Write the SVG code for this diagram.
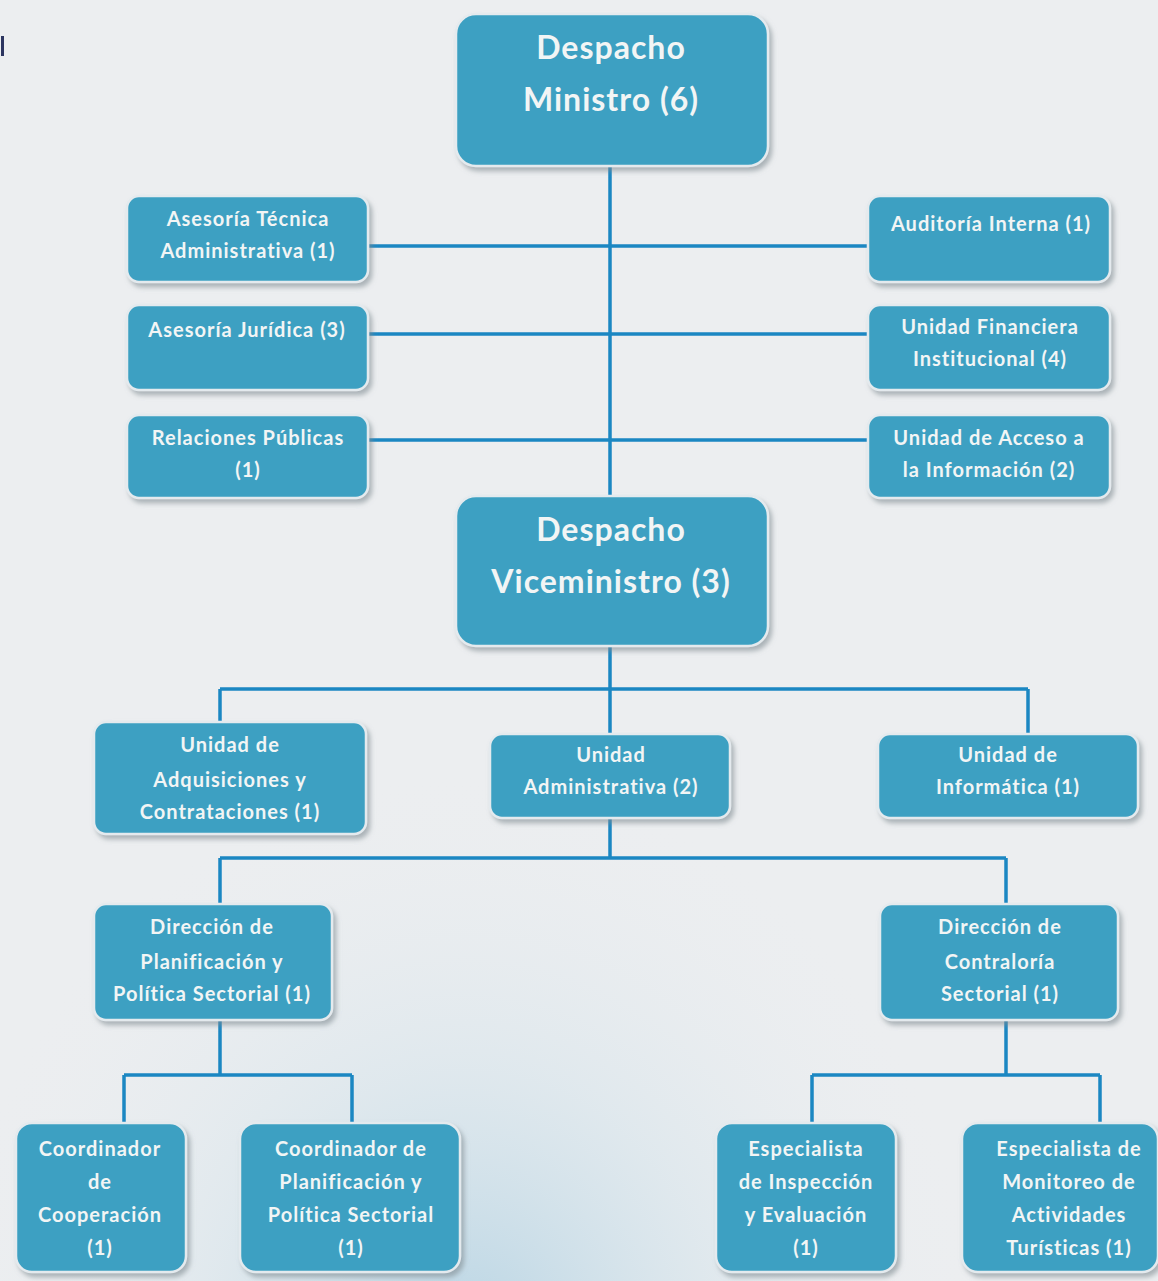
<svg xmlns="http://www.w3.org/2000/svg" width="1158" height="1281" viewBox="0 0 1158 1281">
<defs>
<style>
.box{fill:#3ca0c2;stroke:#e4eaee;stroke-width:2.5;filter:url(#sh)}
.t{font-family:Lato,"Open Sans","Liberation Sans",sans-serif;font-weight:bold;fill:#f2f5f5;text-anchor:middle;font-size:20px;letter-spacing:1px}
.big{font-size:32px;letter-spacing:1px}
.c{stroke:#1b87c2;stroke-width:3.5;fill:none}
</style>
<filter id="sh" x="-10%" y="-10%" width="125%" height="130%">
<feDropShadow dx="3" dy="4" stdDeviation="2.5" flood-color="#7f8a90" flood-opacity="0.6"/>
</filter>
<radialGradient id="bg2" cx="0.4" cy="1.05" r="0.45">
<stop offset="0" stop-color="#a9cde0" stop-opacity="0.8"/>
<stop offset="0.5" stop-color="#cfe1ea" stop-opacity="0.4"/>
<stop offset="1" stop-color="#eceef0" stop-opacity="0"/>
</radialGradient>
</defs>
<rect width="1158" height="1281" fill="#eceef0"/>
<rect width="1158" height="1281" fill="url(#bg2)"/>
<rect x="1" y="36" width="3" height="20" fill="#2c3560"/>
<g id="connectors">
<path class="c" d="M610 166V496M368 246H868M368 334H868M368 440H868"/>
<path class="c" d="M610 646V734M220 689H1028M220 689V722M1028 689V734"/>
<path class="c" d="M610 818V858M220 858H1006M220 858V904M1006 858V904"/>
<path class="c" d="M220 1020V1075M124 1075H352M124 1075V1123M352 1075V1123"/>
<path class="c" d="M1006 1020V1075M812 1075H1100M812 1075V1123M1100 1075V1123"/>
</g>
<g id="n1"><rect class="box" x="456" y="14" width="312" height="152" rx="20"/><text class="t big" x="611" y="59">Despacho</text><text class="t big" x="611" y="111">Ministro (6)</text></g>
<g id="n2"><rect class="box" x="127" y="196" width="241" height="86" rx="12"/><text class="t" x="248" y="226">Asesoría Técnica</text><text class="t" x="248" y="258">Administrativa (1)</text></g>
<g id="n3"><rect class="box" x="127" y="305" width="241" height="85" rx="12"/><text class="t" x="247" y="337">Asesoría Jurídica (3)</text></g>
<g id="n4"><rect class="box" x="127" y="415" width="241" height="83" rx="12"/><text class="t" x="248" y="445">Relaciones Públicas</text><text class="t" x="248" y="477">(1)</text></g>
<g id="n5"><rect class="box" x="868" y="196" width="242" height="86" rx="12"/><text class="t" x="991" y="231">Auditoría Interna (1)</text></g>
<g id="n6"><rect class="box" x="868" y="305" width="242" height="85" rx="12"/><text class="t" x="990" y="334">Unidad Financiera</text><text class="t" x="990" y="366">Institucional (4)</text></g>
<g id="n7"><rect class="box" x="868" y="415" width="242" height="83" rx="12"/><text class="t" x="989" y="445">Unidad de Acceso a</text><text class="t" x="989" y="477">la Información (2)</text></g>
<g id="n8"><rect class="box" x="456" y="496" width="312" height="150" rx="20"/><text class="t big" x="611" y="541">Despacho</text><text class="t big" x="611" y="593">Viceministro (3)</text></g>
<g id="n9"><rect class="box" x="94" y="722" width="272" height="112" rx="12"/><text class="t" x="230" y="752">Unidad de</text><text class="t" x="230" y="787">Adquisiciones y</text><text class="t" x="230" y="819">Contrataciones (1)</text></g>
<g id="n10"><rect class="box" x="490" y="734" width="240" height="84" rx="12"/><text class="t" x="611" y="762">Unidad</text><text class="t" x="611" y="794">Administrativa (2)</text></g>
<g id="n11"><rect class="box" x="878" y="734" width="260" height="84" rx="12"/><text class="t" x="1008" y="762">Unidad de</text><text class="t" x="1008" y="794">Informática (1)</text></g>
<g id="n12"><rect class="box" x="94" y="904" width="238" height="116" rx="12"/><text class="t" x="212" y="934">Dirección de</text><text class="t" x="212" y="969">Planificación y</text><text class="t" x="212" y="1001">Política Sectorial (1)</text></g>
<g id="n13"><rect class="box" x="880" y="904" width="238" height="116" rx="12"/><text class="t" x="1000" y="934">Dirección de</text><text class="t" x="1000" y="969">Contraloría</text><text class="t" x="1000" y="1001">Sectorial (1)</text></g>
<g id="n14"><rect class="box" x="16" y="1123" width="170" height="149" rx="16"/><text class="t" x="100" y="1156">Coordinador</text><text class="t" x="100" y="1189">de</text><text class="t" x="100" y="1222">Cooperación</text><text class="t" x="100" y="1255">(1)</text></g>
<g id="n15"><rect class="box" x="240" y="1123" width="220" height="149" rx="16"/><text class="t" x="351" y="1156">Coordinador de</text><text class="t" x="351" y="1189">Planificación y</text><text class="t" x="351" y="1222">Política Sectorial</text><text class="t" x="351" y="1255">(1)</text></g>
<g id="n16"><rect class="box" x="716" y="1123" width="180" height="149" rx="16"/><text class="t" x="806" y="1156">Especialista</text><text class="t" x="806" y="1189">de Inspección</text><text class="t" x="806" y="1222">y Evaluación</text><text class="t" x="806" y="1255">(1)</text></g>
<g id="n17"><rect class="box" x="962" y="1123" width="196" height="149" rx="16"/><text class="t" x="1069" y="1156">Especialista de</text><text class="t" x="1069" y="1189">Monitoreo de</text><text class="t" x="1069" y="1222">Actividades</text><text class="t" x="1069" y="1255">Turísticas (1)</text></g>
</svg>
